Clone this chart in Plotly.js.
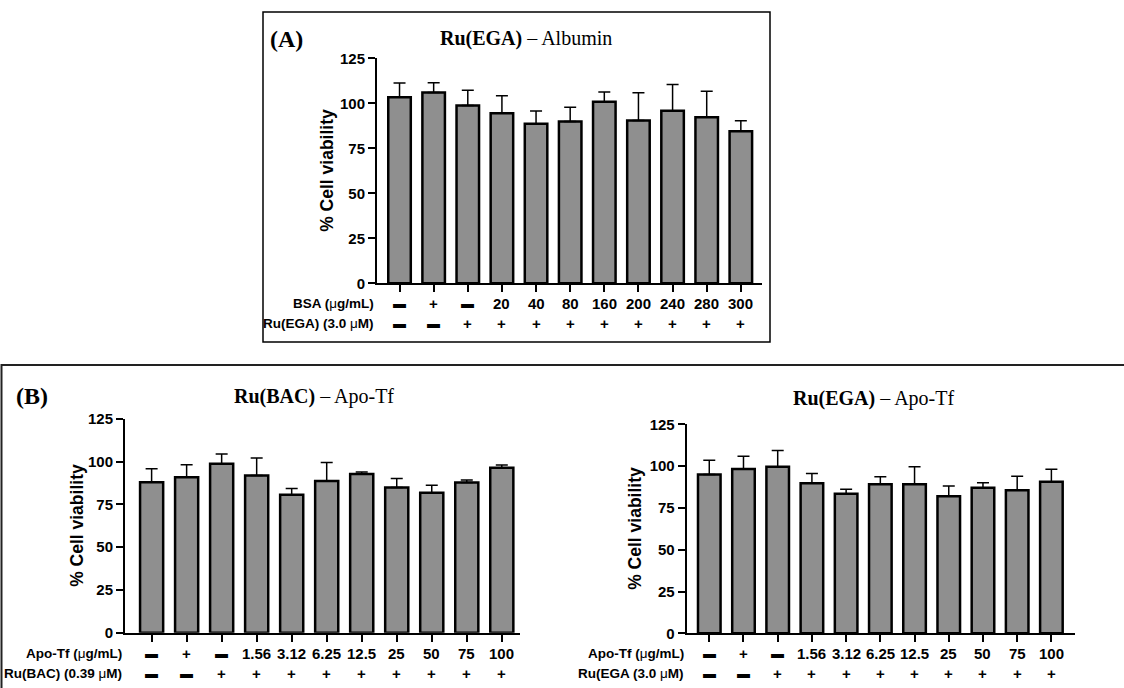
<!DOCTYPE html>
<html>
<head>
<meta charset="utf-8">
<script src="https://cdn.plot.ly/plotly-3.0.1.min.js"></script>
<style>
  html, body { margin: 0; padding: 0; background: #ffffff; }
  #chart { width: 1124px; height: 688px; }
</style>
</head>
<body>
<div id="chart"></div>
<script>
// ---- Data: % cell viability (mean and upper SD) ----
// (A) Ru(EGA) with BSA
const bsaDose   = ['▬', '+', '▬', '20', '40', '80', '160', '200', '240', '280', '300'];
const ruEgaA    = ['▬', '▬', '+', '+', '+', '+', '+', '+', '+', '+', '+'];
const viabA     = [103.3, 106.0, 98.8, 94.5, 88.6, 89.9, 100.8, 90.4, 95.8, 92.3, 84.5];
const sdA       = [8.0, 5.4, 8.4, 9.7, 7.1, 7.9, 5.5, 15.5, 14.6, 14.4, 5.8];

// (B) Ru(BAC) with Apo-Tf
const apoDose   = ['▬', '+', '▬', '1.56', '3.12', '6.25', '12.5', '25', '50', '75', '100'];
const ruBac     = ['▬', '▬', '+', '+', '+', '+', '+', '+', '+', '+', '+'];
const viabBac   = [88.0, 91.0, 98.8, 92.0, 80.7, 88.7, 92.8, 85.0, 81.8, 87.9, 96.5];
const sdBac     = [7.9, 7.2, 5.7, 10.2, 3.7, 10.9, 1.2, 5.2, 4.5, 1.4, 1.6];

// (B) Ru(EGA) with Apo-Tf
const ruEgaB    = ['▬', '▬', '+', '+', '+', '+', '+', '+', '+', '+', '+'];
const viabEgaB  = [95.0, 98.2, 99.6, 89.8, 83.4, 89.2, 89.2, 82.0, 87.0, 85.6, 90.6];
const sdEgaB    = [8.5, 7.7, 9.8, 5.7, 2.7, 4.5, 10.4, 6.1, 3.1, 8.3, 7.5];

const yTicks = [0, 25, 50, 75, 100, 125];

// ---- Page geometry ----
const W = 1124, H = 688;
const px = x => x / W;
const py = y => 1 - y / H;

const SANS = 'Liberation Sans, Arial, sans-serif';
const SERIF = 'Liberation Serif, Times New Roman, serif';
const BAR_FILL = '#8f8f8f';

const panels = [
  { id: '', values: viabA, sd: sdA, row1: bsaDose, row2: ruEgaA,
    lab1: '<b>BSA (</b>μ<b>g/mL)</b>', lab2: '<b>Ru(EGA) (3.0 </b>μ<b>M)</b>',
    xdom: [377, 762], ydom: [283.3, 58.3], xrange: [-0.66, 10.62],
    rows: [303, 323], ytitleX: 327 },
  { id: '2', values: viabBac, sd: sdBac, row1: apoDose, row2: ruBac,
    lab1: '<b>Apo-Tf (</b>μ<b>g/mL)</b>', lab2: '<b>Ru(BAC) (0.39 </b>μ<b>M)</b>',
    xdom: [125, 520], ydom: [632.7, 419], xrange: [-0.76, 10.52],
    rows: [653, 673], ytitleX: 77 },
  { id: '3', values: viabEgaB, sd: sdEgaB, row1: apoDose, row2: ruEgaB,
    lab1: '<b>Apo-Tf (</b>μ<b>g/mL)</b>', lab2: '<b>Ru(EGA (3.0 </b>μ<b>M)</b>',
    xdom: [686.7, 1075], ydom: [633.3, 424.3], xrange: [-0.66, 10.69],
    rows: [653, 673], ytitleX: 635 }
];

const traces = [];
const layout = {
  width: W, height: H,
  margin: { l: 0, r: 0, t: 0, b: 0 },
  paper_bgcolor: '#ffffff',
  plot_bgcolor: 'rgba(0,0,0,0)',
  showlegend: false,
  annotations: [],
  shapes: []
};

panels.forEach(p => {
  const xa = 'x' + p.id, ya = 'y' + p.id;
  const idx = p.values.map((_, i) => i);

  traces.push({
    type: 'bar',
    x: idx, y: p.values,
    xaxis: xa, yaxis: ya,
    width: 0.66,
    marker: { color: BAR_FILL, line: { color: '#000000', width: 2.5 } },
    error_y: {
      type: 'data', symmetric: false,
      array: p.sd, arrayminus: p.sd.map(() => 0),
      color: '#000000', thickness: 1.5, width: 6
    },
    hoverinfo: 'skip'
  });

  layout['xaxis' + p.id] = {
    domain: [px(p.xdom[0]), px(p.xdom[1])],
    anchor: ya,
    range: p.xrange,
    tickvals: idx,
    showticklabels: false,
    ticks: 'outside', ticklen: 7, tickwidth: 2, tickcolor: '#000',
    showline: true, linewidth: 2, linecolor: '#000',
    showgrid: false, zeroline: false, fixedrange: true
  };
  layout['yaxis' + p.id] = {
    domain: [py(p.ydom[0]), py(p.ydom[1])],
    anchor: xa,
    range: [0, 125],
    tickvals: yTicks,
    ticks: 'outside', ticklen: 7, tickwidth: 2, tickcolor: '#000',
    tickfont: { family: SANS, size: 15, color: '#000', weight: 'bold' },
    showline: true, linewidth: 2, linecolor: '#000',
    showgrid: false, zeroline: false, fixedrange: true
  };

  // y-axis title
  layout.annotations.push({
    xref: 'paper', yref: ya + ' domain',
    x: px(p.ytitleX), y: 0.5,
    text: '<b>% Cell viability</b>', textangle: -90,
    showarrow: false, xanchor: 'center', yanchor: 'middle',
    font: { family: SANS, size: 17.5, color: '#000' }
  });

  // two rows of condition labels under the bars
  [[p.row1, p.lab1, p.rows[0]], [p.row2, p.lab2, p.rows[1]]].forEach(([row, lab, yy]) => {
    row.forEach((t, i) => {
      layout.annotations.push({
        xref: xa, yref: 'paper', x: i, y: py(yy),
        text: t === '▬' ? t : '<b>' + t + '</b>',
        showarrow: false, xanchor: 'center', yanchor: 'middle',
        font: { family: SANS, size: t === '▬' ? 13 : 15, color: '#000' }
      });
    });
    layout.annotations.push({
      xref: xa + ' domain', yref: 'paper', x: 0, y: py(yy),
      xshift: -1,
      text: lab, showarrow: false, xanchor: 'right', yanchor: 'middle',
      font: { family: SANS, size: 13.5, color: '#000' }
    });
  });
});

// Panel titles and letters
const titles = [
  { text: '<b>Ru(EGA)</b> – Albumin', x: 526, y: 39 },
  { text: '<b>Ru(BAC)</b> – Apo-Tf', x: 314, y: 396 },
  { text: '<b>Ru(EGA)</b> – Apo-Tf', x: 873, y: 398 }
];
titles.forEach(t => layout.annotations.push({
  xref: 'paper', yref: 'paper', x: px(t.x), y: py(t.y),
  text: t.text, showarrow: false, xanchor: 'center', yanchor: 'middle',
  font: { family: SERIF, size: 20, color: '#000' }
}));
[{ text: '<b>(A)</b>', x: 268, y: 39 }, { text: '<b>(B)</b>', x: 14, y: 396 }].forEach(t =>
  layout.annotations.push({
    xref: 'paper', yref: 'paper', x: px(t.x), y: py(t.y),
    text: t.text, showarrow: false, xanchor: 'left', yanchor: 'middle',
    font: { family: SERIF, size: 24, color: '#000' }
  }));

// Panel frames
layout.shapes.push({
  type: 'rect', xref: 'paper', yref: 'paper',
  x0: px(263), x1: px(770), y0: py(342), y1: py(12),
  line: { color: '#000', width: 1.5 }, fillcolor: 'rgba(0,0,0,0)', layer: 'below'
});
layout.shapes.push({
  type: 'path', xref: 'paper', yref: 'paper',
  path: `M ${px(1.5)} ${py(690)} L ${px(1.5)} ${py(365)} L ${px(1124)} ${py(365)}`,
  line: { color: '#222', width: 2 }, layer: 'below'
});

Plotly.newPlot('chart', traces, layout, { displayModeBar: false, staticPlot: true });
</script>
</body>
</html>
